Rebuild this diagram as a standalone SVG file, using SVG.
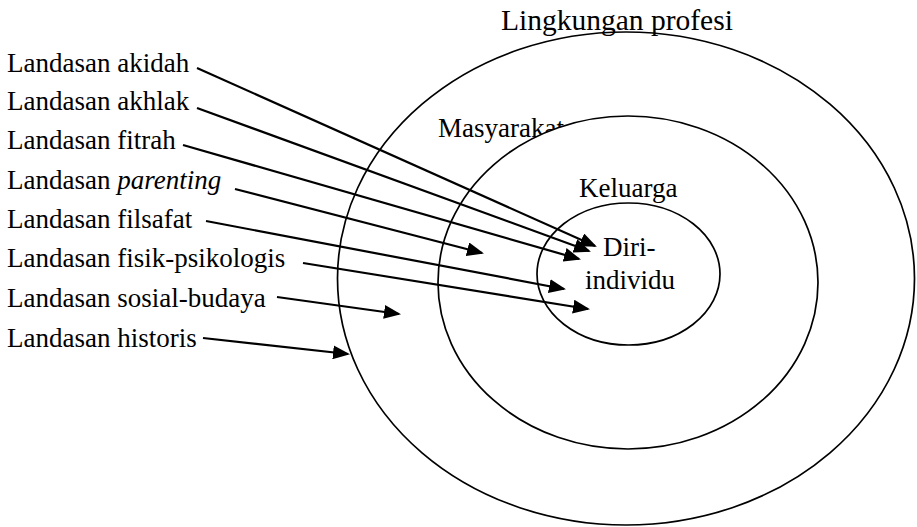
<svg xmlns="http://www.w3.org/2000/svg" width="917" height="527" viewBox="0 0 917 527">
  <style>
    .t { font-family: "Liberation Serif", serif; font-size: 27px; fill: #000; }
    .title { font-size: 29.5px; }
    .ring { fill: #fff; stroke: #000; stroke-width: 1.7; }
    .ring-open { fill: none; stroke: #000; stroke-width: 1.7; }
    .arrow { stroke: #000; stroke-width: 2.2; fill: none; marker-end: url(#head); }
  </style>
  <defs>
    <marker id="head" markerUnits="userSpaceOnUse" markerWidth="17" markerHeight="14" viewBox="0 0 17 14" refX="15" refY="7" orient="auto">
      <path d="M0,0 L17,7 L0,14 Z" fill="#000"/>
    </marker>
  </defs>

  <rect width="917" height="527" fill="#fff"/>

  <!-- outer ring: professional environment -->
  <g id="lingkungan-profesi">
    <ellipse class="ring-open" cx="626" cy="278.5" rx="288.5" ry="246.5"/>
    <text class="t title" x="501" y="30">Lingkungan profesi</text>
  </g>

  <!-- society ring; its white fill covers the tail of the label -->
  <g id="masyarakat">
    <text class="t" x="438" y="137">Masyarakat</text>
    <ellipse class="ring" cx="628" cy="282.5" rx="190" ry="166.5"/>
  </g>

  <!-- family ring -->
  <g id="keluarga">
    <text class="t" x="579" y="197">Keluarga</text>
    <ellipse class="ring" cx="628.5" cy="274" rx="91.5" ry="71"/>
  </g>

  <!-- the individual at the centre -->
  <g id="diri-individu">
    <text class="t" x="603" y="256">Diri-</text>
    <text class="t" x="585" y="289">individu</text>
  </g>

  <!-- foundation labels -->
  <g id="landasan-akidah"><text class="t" x="7" y="72">Landasan akidah</text></g>
  <g id="landasan-akhlak"><text class="t" x="7" y="110">Landasan akhlak</text></g>
  <g id="landasan-fitrah"><text class="t" x="7" y="149">Landasan fitrah</text></g>
  <g id="landasan-parenting"><text class="t" x="7" y="189">Landasan <tspan font-style="italic">parenting</tspan></text></g>
  <g id="landasan-filsafat"><text class="t" x="7" y="228">Landasan filsafat</text></g>
  <g id="landasan-fisik-psikologis"><text class="t" x="7" y="267">Landasan fisik-psikologis</text></g>
  <g id="landasan-sosial-budaya"><text class="t" x="7" y="307">Landasan sosial-budaya</text></g>
  <g id="landasan-historis"><text class="t" x="7" y="347">Landasan historis</text></g>

  <!-- connectors -->
  <g id="connectors">
    <line class="arrow" x1="197" y1="68" x2="595" y2="246"/>
    <line class="arrow" x1="197" y1="108" x2="589" y2="251"/>
    <line class="arrow" x1="183" y1="145" x2="579" y2="259"/>
    <line class="arrow" x1="235" y1="189" x2="482" y2="253"/>
    <line class="arrow" x1="206" y1="221" x2="564" y2="289"/>
    <line class="arrow" x1="303" y1="263" x2="588" y2="309"/>
    <line class="arrow" x1="277" y1="297" x2="399" y2="314"/>
    <line class="arrow" x1="203" y1="338" x2="348" y2="354"/>
  </g>
</svg>
